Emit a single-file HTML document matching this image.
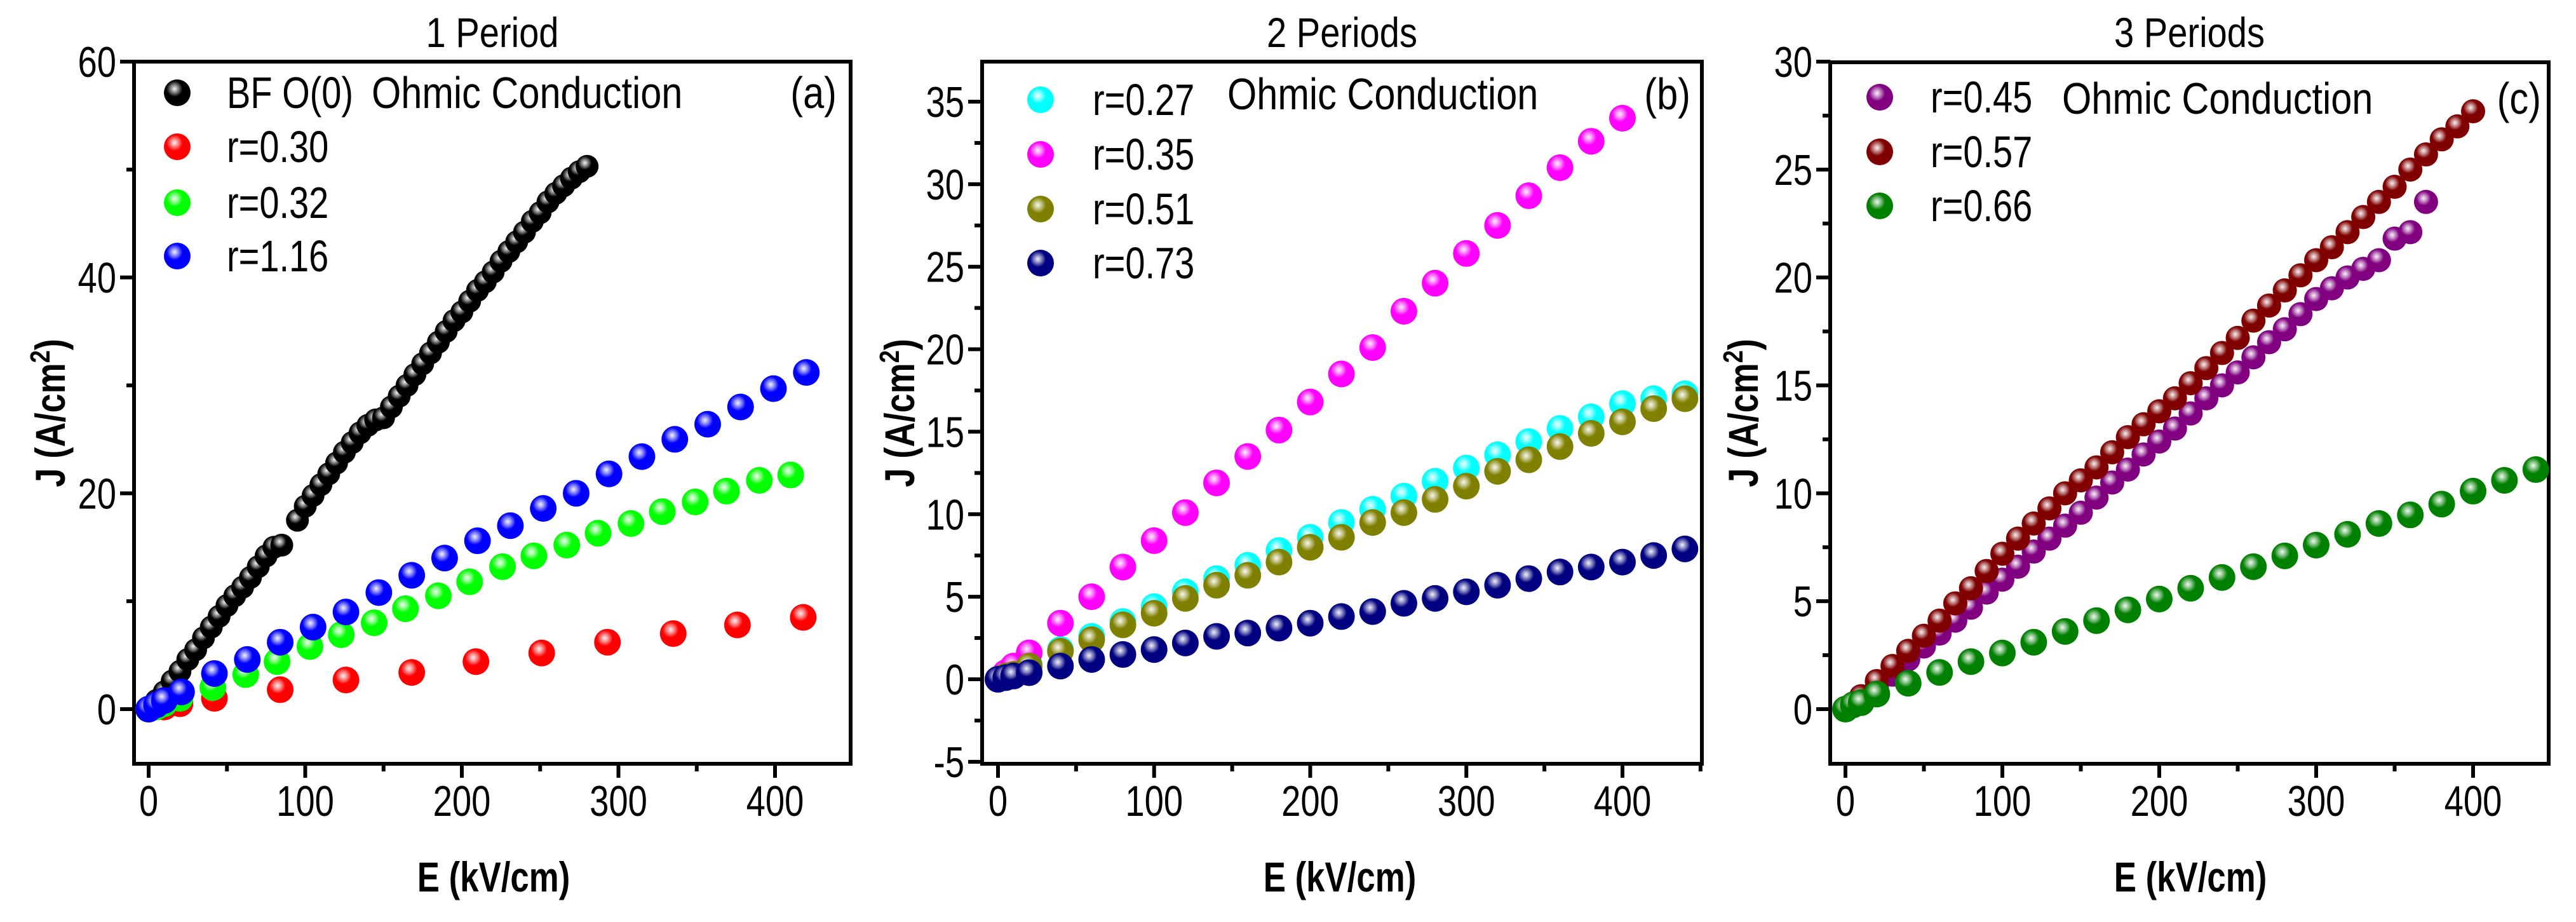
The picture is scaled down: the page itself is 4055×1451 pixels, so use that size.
<!DOCTYPE html>
<html><head><meta charset="utf-8"><style>
html,body{margin:0;padding:0;background:#fff;}
svg{display:block;}
text{font-family:"Liberation Sans",sans-serif;fill:#000;}
</style></head><body>
<svg id="fig" width="4055" height="1451" viewBox="0 0 4055 1451" xmlns="http://www.w3.org/2000/svg">
<defs>
<radialGradient id="hl" cx="0.4" cy="0.35" r="0.6"><stop offset="0" stop-color="#fff" stop-opacity="0.95"/><stop offset="0.25" stop-color="#fff" stop-opacity="0.5"/><stop offset="0.5" stop-color="#fff" stop-opacity="0"/></radialGradient>
</defs>
</svg>
<script>
// ---- Panel (a) data ----
const aBfoX=[0,5,10,15,20,25,30,35,40,45,50,55,60,65,70,75,80,85,95,100,105,110,115,120,125,130,135,140,145,150,155,160,165,170,175,180,185,190,195,200,205,210,215,220,225,230,235,240,245,250,255,260,265,270,275,280];
const aBfoY=[0,0.8,1.6,2.6,3.5,4.6,5.5,6.6,7.6,8.6,9.6,10.5,11.3,12.2,13.2,14.2,15.0,15.2,17.5,18.8,19.8,20.8,21.8,22.8,23.8,24.7,25.6,26.3,26.8,27.0,28.0,29.0,30.0,31.0,32.0,33.0,34.0,35.0,36.0,36.8,37.8,38.8,39.6,40.5,41.5,42.4,43.3,44.2,45.2,46.0,47.0,47.8,48.5,49.2,49.8,50.3];
const aR30X=[0,10,20,42,84,126,168,209,251,293,335,376,418];
const aR30Y=[0,0.2,0.5,1.0,1.8,2.7,3.4,4.4,5.2,6.2,7.0,7.8,8.5];
const aR32X=[0,5,10,20,41,62,82,103,123,144,164,185,205,226,246,267,287,308,328,349,369,390,410];
const aR32Y=[0,0.2,0.5,1,2,3.2,4.4,5.8,6.9,8,9.3,10.5,11.8,13.2,14.2,15.2,16.3,17.2,18.3,19.2,20.2,21.2,21.7];
const aR116X=[0,5,10,21,42,63,84,105,126,147,168,189,210,231,252,273,294,315,336,357,378,399,420];
const aR116Y=[0,0.4,0.8,1.6,3.3,4.6,6.2,7.6,9.0,10.8,12.4,14.0,15.6,17.0,18.6,20.0,21.8,23.4,25.0,26.4,28.0,29.7,31.2];
// ---- Panel (b) data ----
const bX=[0,5,10,20,40,60,80,100,120,140,160,180,200,220,240,260,280,300,320,340,360,380,400,420,440];
const bR27Y=[0,0.2,0.4,0.9,1.8,2.6,3.5,4.4,5.3,6.1,6.9,7.8,8.6,9.5,10.3,11.1,12.0,12.8,13.6,14.4,15.2,15.9,16.7,17.0,17.3];
const bR35X=[0,5,10,20,40,60,80,100,120,140,160,180,200,220,240,260,280,300,320,340,360,380,400];
const bR35Y=[0,0.4,0.8,1.6,3.4,5.0,6.8,8.4,10.1,11.9,13.5,15.1,16.8,18.5,20.1,22.3,24.0,25.8,27.5,29.3,31.0,32.6,34.0];
const bR51Y=[0,0.2,0.3,0.8,1.7,2.4,3.3,4.0,4.9,5.7,6.3,7.1,8.0,8.6,9.5,10.1,10.9,11.7,12.6,13.3,14.1,14.9,15.6,16.4,17.0];
const bR73Y=[0,0.1,0.2,0.4,0.8,1.2,1.5,1.8,2.2,2.6,2.8,3.1,3.4,3.8,4.1,4.6,4.9,5.3,5.7,6.1,6.5,6.8,7.1,7.5,7.9];
// ---- Panel (c) data ----
const cR45X=[0,10,20,30,40,50,60,70,80,90,100,110,120,130,140,150,160,170,180,190,200,210,220,230,240,250,260,270,280,290,300,310,320,330,340,350,360,370];
const cR45Y=[0,0.4,1.0,1.6,2.3,2.9,3.5,4.1,4.7,5.4,6.0,6.6,7.3,7.9,8.5,9.1,9.8,10.5,11.1,11.8,12.4,13.0,13.7,14.4,15.0,15.6,16.3,17.0,17.6,18.3,19.0,19.5,20.0,20.4,20.8,21.8,22.1,23.5];
const cR57X=[0,10,20,30,40,50,60,70,80,90,100,110,120,130,140,150,160,170,180,190,200,210,220,230,240,250,260,270,280,290,300,310,320,330,340,350,360,370,380,390,400];
const cR57Y=[0,0.6,1.3,2.0,2.7,3.4,4.1,4.9,5.6,6.4,7.2,7.9,8.6,9.3,10.0,10.6,11.2,11.9,12.6,13.2,13.8,14.4,15.1,15.8,16.5,17.2,18.0,18.7,19.4,20.1,20.8,21.4,22.1,22.8,23.5,24.2,25.0,25.7,26.4,27.0,27.7];
const cR66X=[0,5,10,20,40,60,80,100,120,140,160,180,200,220,240,260,280,300,320,340,360,380,400,420,440];
const cR66Y=[0,0.2,0.3,0.7,1.2,1.7,2.2,2.6,3.1,3.6,4.1,4.6,5.1,5.6,6.1,6.6,7.1,7.6,8.1,8.6,9.0,9.5,10.1,10.6,11.1];
// ---- ticks ----
const xTicks=[0,100,200,300,400];
const aYTicks=[0,20,40,60];
const bYTicks=[-5,0,5,10,15,20,25,30,35];
const cYTicks=[0,5,10,15,20,25,30];

const NS="http://www.w3.org/2000/svg";
const svg=document.getElementById('fig');
function mk(tag,attrs,parent){const e=document.createElementNS(NS,tag);for(const k in attrs)e.setAttribute(k,attrs[k]);(parent||svg).appendChild(e);return e;}
function txt(parent,x,y,size,anchor,str,sx,extra){
  const e=mk('text',Object.assign({x:0,y:0,'font-size':size,'text-anchor':anchor,transform:`translate(${x},${y}) scale(${sx},1)`},extra||{}),parent);
  e.textContent=str;return e;
}

const panels=[
 {id:'a',title:'1 Period',L:211,R:1339,T:97,B:1202,x0px:234,x400px:1220,ya:0,yapx:1116,yb:60,ybpx:97,yTicks:aYTicks,yMinor:10,
  series:[{name:'BF O(0)',col:'#000000',x:aBfoX,y:aBfoY,r:18},{name:'r=0.30',col:'#ff0000',x:aR30X,y:aR30Y,r:21},{name:'r=0.32',col:'#00ff00',x:aR32X,y:aR32Y,r:21},{name:'r=1.16',col:'#0000ff',x:aR116X,y:aR116Y,r:21}],
  legX:279,legTX:357,legY:[146,231,319,403],ohmX:585,tagR:1317,tagY:146,ylabX:80,xlabX:777},
 {id:'b',title:'2 Periods',L:1546,R:2679,T:97,B:1202,x0px:1571,x400px:2554,ya:0,yapx:1069,yb:35,ybpx:160,yTicks:bYTicks,yMinor:2.5,
  series:[{name:'r=0.27',col:'#00ffff',x:bX,y:bR27Y,r:21},{name:'r=0.35',col:'#ff00ff',x:bR35X,y:bR35Y,r:21},{name:'r=0.51',col:'#808000',x:bX,y:bR51Y,r:21},{name:'r=0.73',col:'#000080',x:bX,y:bR73Y,r:21}],
  legX:1638,legTX:1720,legY:[157,243,329,414],ohmX:1932,tagR:2661,tagY:148,ylabX:1417,xlabX:2109},
 {id:'c',title:'3 Periods',L:2881,R:4012,T:98,B:1202,x0px:2905,x400px:3893,ya:0,yapx:1116,yb:30,ybpx:97,yTicks:cYTicks,yMinor:2.5,
  series:[{name:'r=0.45',col:'#800080',x:cR45X,y:cR45Y,r:19},{name:'r=0.57',col:'#800000',x:cR57X,y:cR57Y,r:19},{name:'r=0.66',col:'#008000',x:cR66X,y:cR66Y,r:21}],
  legX:2959,legTX:3039,legY:[153,239,324],ohmX:3246,tagR:4000,tagY:155,ylabX:2745,xlabX:3448}
];

function marker(g,cx,cy,r,col){
  const c=mk('circle',{cx:cx,cy:cy,r:r,fill:col},g);
  
  
  mk('circle',{cx:cx,cy:cy,r:r,fill:'url(#hl)'},g);
}

panels.forEach(p=>{
  const g=mk('g',{});
  
  
  const xs=v=>p.x0px+(v/400)*(p.x400px-p.x0px);
  const ys=v=>p.yapx+(v-p.ya)*(p.ybpx-p.yapx)/(p.yb-p.ya);
  const t=txt(g,(p.L+p.R)/2,74,66,'middle',p.title,0.85);
  
  
  const fr=mk('rect',{x:p.L,y:p.T,width:p.R-p.L,height:p.B-p.T,fill:'none',stroke:'#000','stroke-width':6},g);
  
  
  for(let v=0;v<=450;v+=50){const X=xs(v);if(X>p.R)break;const major=v%100===0;
    mk('line',{x1:X,y1:p.B,x2:X,y2:p.B+(major?22:12),stroke:'#000','stroke-width':6},g);}
  xTicks.forEach(v=>{const tt=txt(g,xs(v),1284,68,'middle',String(v),0.8);
    
    });
  const yt=p.yTicks, ymin=yt[0], ymax=yt[yt.length-1];
  for(let v=ymin;v<=ymax+1e-9;v+=p.yMinor){const Y=ys(v);const major=yt.some(k=>Math.abs(k-v)<1e-6);
    mk('line',{x1:p.L,y1:Y,x2:p.L-(major?22:12),y2:Y,stroke:'#000','stroke-width':6},g);}
  yt.forEach(v=>{const tt=txt(g,p.L-28,ys(v)+24,68,'end',String(v),0.8);
    
    });
  const yl=mk('text',{x:0,y:0,'font-size':66,'text-anchor':'middle','font-weight':'bold',transform:`translate(${p.ylabX+22},650) rotate(-90) scale(0.82,1)`},g);
  yl.innerHTML='J (A/cm<tspan font-size="44" dy="-24">2</tspan><tspan dy="24">)</tspan>';
  
  
  const xl=txt(g,p.xlabX,1403,66,'middle','E (kV/cm)',0.8,{'font-weight':'bold'});
  
  
  p.series.forEach((s,i)=>{
    const sg=mk('g',{},g);
    
    
    s.x.forEach((xv,k)=>marker(sg,xs(xv),ys(s.y[k]),s.r,s.col));
    const lg=mk('g',{},g);
    
    
    marker(lg,p.legX,p.legY[i],21,s.col);
    txt(lg,p.legTX,p.legY[i]+24,70,'start',s.name,0.8);
  });
  const oh=txt(g,p.ohmX,p.tagY+24,70,'start','Ohmic Conduction',0.85);
  
  
  const tg=txt(g,p.tagR,p.tagY+24,70,'end','('+p.id+')',0.85);
  
  
});
</script>
</body></html>
